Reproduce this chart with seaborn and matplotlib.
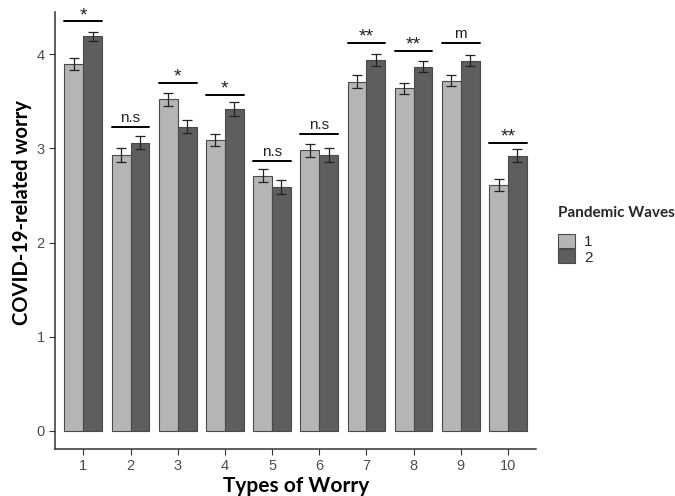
import pandas as pd
import matplotlib
matplotlib.use("Agg")
import matplotlib.pyplot as plt
import seaborn as sns

# values
worry_types = ["1", "2", "3", "4", "5", "6", "7", "8", "9", "10"]
wave1_mean = [3.90, 2.93, 3.52, 3.09, 2.71, 2.98, 3.71, 3.64, 3.72, 2.61]
wave2_mean = [4.19, 3.06, 3.23, 3.42, 2.59, 2.93, 3.94, 3.87, 3.93, 2.92]
wave1_se = [0.064, 0.070, 0.070, 0.067, 0.070, 0.069, 0.067, 0.060, 0.062, 0.062]
wave2_se = [0.048, 0.070, 0.067, 0.072, 0.072, 0.072, 0.060, 0.057, 0.058, 0.069]
sig_labels = ["*", "n.s", "*", "*", "n.s", "n.s", "**", "**", "m", "**"]
sig_heights = [4.35, 3.23, 3.70, 3.57, 2.87, 3.15, 4.12, 4.04, 4.12, 3.06]

df = pd.DataFrame({
    "worry": worry_types * 2,
    "wave": ["1"] * 10 + ["2"] * 10,
    "mean": wave1_mean + wave2_mean,
})

sns.set_theme(style="white")
plt.rcParams["font.family"] = ["Liberation Sans", "DejaVu Sans"]

fig = plt.figure(figsize=(6.75, 4.96), dpi=100)
ax = fig.add_axes([0.0815, 0.095, 0.713, 0.881])

sns.barplot(
    data=df, x="worry", y="mean", hue="wave",
    order=worry_types, hue_order=["1", "2"],
    palette=["#b5b5b5", "#5e5e5e"],
    edgecolor="#4a4a4a", linewidth=0.8,
    width=0.8, errorbar=None, ax=ax,
)

for cont, se in zip(ax.containers, [wave1_se, wave2_se]):
    xs = [p.get_x() + p.get_width() / 2 for p in cont.patches]
    ys = [p.get_height() for p in cont.patches]
    ax.errorbar(xs, ys, yerr=se, fmt="none", ecolor="#222222",
                elinewidth=0.9, capsize=3.5, capthick=0.9, zorder=5)

for i, (lab, h) in enumerate(zip(sig_labels, sig_heights)):
    ax.plot([i - 0.4, i + 0.4], [h, h], color="black", lw=1.4, zorder=5)
    if "*" in lab:
        ax.text(i, h - 0.03, lab, ha="center", va="bottom",
                fontsize=14, color="#222222")
    else:
        ax.text(i, h + 0.02, lab, ha="center", va="bottom",
                fontsize=11, color="#222222")

ax.set_xlim(-0.6, 9.6)
ax.set_ylim(-0.19, 4.45)
ax.set_yticks([0, 1, 2, 3, 4])
sns.despine(ax=ax)
for s in ["left", "bottom"]:
    ax.spines[s].set_color("#333333")
    ax.spines[s].set_linewidth(1.1)
ax.tick_params(axis="both", colors="#4d4d4d", labelsize=10.5, length=4,
               width=0.8, direction="out", left=True, bottom=True)
ax.tick_params(axis="both", color="#333333")

ax.set_xlabel("Types of Worry", fontsize=15, fontweight="bold",
              family=["Lato", "DejaVu Sans"], color="black", labelpad=2)
ax.set_ylabel("COVID-19-related worry", fontsize=14.5, fontweight="bold",
              family=["Lato", "DejaVu Sans"], color="black")
ax.yaxis.set_label_coords(-0.047, 0.54)

handles, labels = ax.get_legend_handles_labels()
ax.legend_.remove()
leg = fig.legend(handles, labels, title="Pandemic Waves",
                 loc="upper left", bbox_to_anchor=(0.818, 0.596),
                 frameon=False, fontsize=11, handlelength=1.1,
                 handleheight=1.0, handletextpad=0.6, labelspacing=0.0,
                 borderaxespad=0)
leg.get_title().set_fontweight("bold")
leg.get_title().set_family(["Lato", "DejaVu Sans"])
leg.get_title().set_fontsize(11)
leg._legend_box.align = "left"
leg._legend_box.sep = 10

fig.savefig("out.png", dpi=100)
